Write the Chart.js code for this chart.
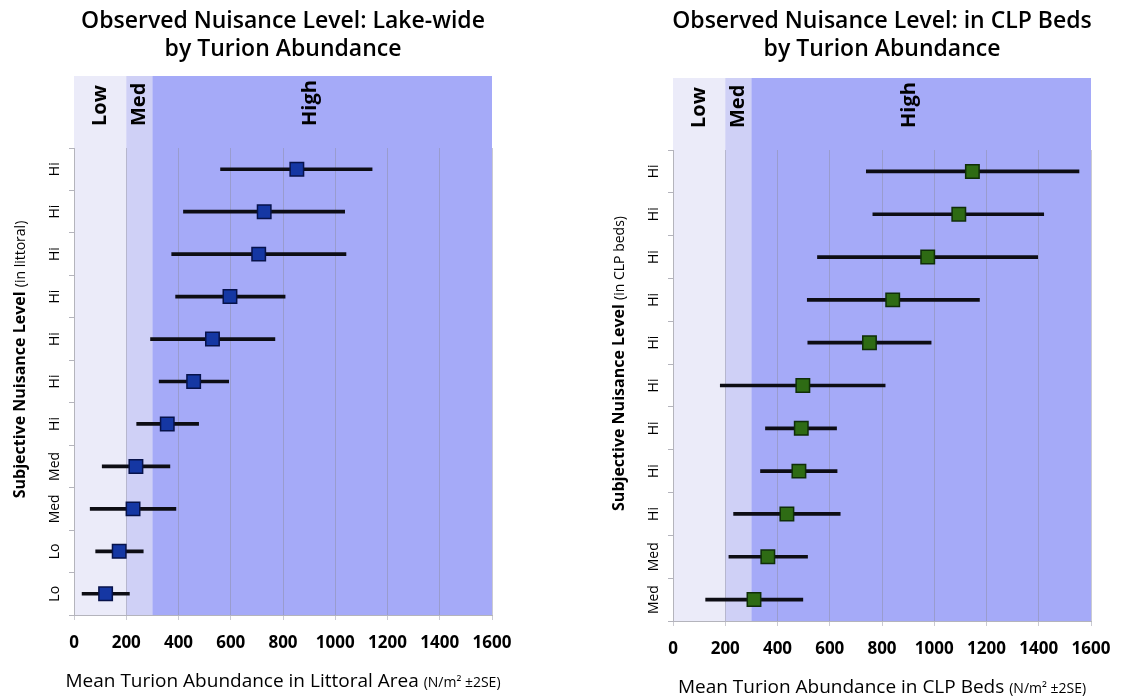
<!DOCTYPE html>
<html>
<head>
<meta charset="utf-8">
<script src="https://cdn.jsdelivr.net/npm/chart.js@4.4.1/dist/chart.umd.min.js"></script>
<style>
  body { margin: 0; background: #fff; }
  .panel { position: absolute; top: 0; height: 696px; }
</style>
</head>
<body>
<div class="panel" style="left:0;width:566px"><canvas id="lakeChart" width="566" height="696"></canvas></div>
<div class="panel" style="left:566px;width:565px"><canvas id="bedChart" width="565" height="696"></canvas></div>
<script>
// rows listed top to bottom
const lakeLevels = ['Hi', 'Hi', 'Hi', 'Hi', 'Hi', 'Hi', 'Hi', 'Med', 'Med', 'Lo', 'Lo'];
const lakeMean = [853, 728, 707, 597, 530, 458, 357, 237, 226, 173, 121];
const lakeLow = [561, 419, 374, 389, 293, 326, 240, 108, 62, 83, 31];
const lakeHigh = [1141, 1036, 1041, 808, 769, 592, 477, 367, 390, 265, 212];

const bedLevels = ['Hi', 'Hi', 'Hi', 'Hi', 'Hi', 'Hi', 'Hi', 'Hi', 'Hi', 'Med', 'Med'];
const bedMean = [1146, 1094, 975, 841, 752, 497, 491, 482, 436, 363, 310];
const bedLow = [740, 765, 553, 514, 516, 181, 354, 335, 232, 214, 125];
const bedHigh = [1554, 1419, 1396, 1173, 988, 812, 626, 628, 640, 515, 497];

// abundance classes along the x axis
const bandNames = ['Low', 'Med', 'High'];
const bandEdges = [0, 200, 300, 1600];
const bandLabelAt = [100, 250, 905];
const bandColors = ['#ebebf9', '#cfd0f6', '#a5aaf8'];

const FONT = "'Open Sans', 'Noto Sans', sans-serif";

// draws pieces of text with different fonts on one baseline, centred on x
function drawMixed(ctx, parts, cx, baseline) {
  let total = 0;
  parts.forEach(p => { ctx.font = p.font; total += ctx.measureText(p.text).width; });
  let x = cx - total / 2;
  ctx.textAlign = 'left';
  ctx.textBaseline = 'alphabetic';
  parts.forEach(p => {
    ctx.font = p.font;
    ctx.fillText(p.text, x, baseline);
    x += ctx.measureText(p.text).width;
  });
}

const panelDecor = {
  id: 'panelDecor',
  beforeDraw(chart, args, o) {
    const { ctx, chartArea: a, scales: { x } } = chart;
    ctx.save();
    for (let i = 0; i < bandNames.length; i++) {
      const l = x.getPixelForValue(bandEdges[i]);
      const r = x.getPixelForValue(bandEdges[i + 1]);
      ctx.fillStyle = bandColors[i];
      ctx.fillRect(l, o.bandTop, r - l, a.bottom - o.bandTop);
    }
    ctx.restore();
  },
  afterDraw(chart, args, o) {
    const { ctx, chartArea: a, scales: { x, y } } = chart;
    const mid = (a.left + a.right) / 2;
    ctx.save();
    ctx.fillStyle = '#000';

    // chart title
    ctx.font = '600 23px ' + FONT;
    ctx.textAlign = 'center';
    ctx.textBaseline = 'middle';
    o.title.forEach((line, i) => ctx.fillText(line, mid, 21 + i * 28));

    // band names in the header strip
    ctx.font = 'bold 20px ' + FONT;
    bandNames.forEach((name, i) => {
      ctx.save();
      ctx.translate(x.getPixelForValue(bandLabelAt[i]), o.bandTop + 50);
      ctx.rotate(-Math.PI / 2);
      ctx.textAlign = 'left';
      ctx.textBaseline = 'middle';
      ctx.fillText(name, 0, 0);
      ctx.restore();
    });

    // category labels, rotated
    ctx.font = '14px ' + FONT;
    chart.data.labels.forEach((lab, i) => {
      ctx.save();
      ctx.translate(a.left - 19, y.getPixelForValue(i));
      ctx.rotate(-Math.PI / 2);
      ctx.textAlign = 'center';
      ctx.textBaseline = 'middle';
      ctx.fillText(lab, 0, 0);
      ctx.restore();
    });

    // y axis title
    ctx.save();
    ctx.translate(a.left - 55, (a.top + a.bottom) / 2 - 22);
    ctx.rotate(-Math.PI / 2);
    drawMixed(ctx, [
      { text: 'Subjective Nuisance Level ', font: 'bold 16px ' + FONT },
      { text: o.yNote, font: '14px ' + FONT }
    ], 0, 6);
    ctx.restore();

    // x axis title
    drawMixed(ctx, [
      { text: o.xTitle + ' ', font: '19px ' + FONT },
      { text: '(N/m\u00B2 \u00B12SE)', font: '14px ' + FONT }
    ], mid, a.bottom + 72);
    ctx.restore();
  }
};

function buildPanel(id, p) {
  return new Chart(document.getElementById(id), {
    type: 'bar',
    data: {
      labels: p.levels,
      datasets: [
        {
          type: 'line',
          label: 'Mean',
          data: p.mean,
          indexAxis: 'y',
          showLine: false,
          pointStyle: 'rect',
          pointRadius: 9.5,
          pointHoverRadius: 9.5,
          pointBackgroundColor: p.fill,
          pointBorderColor: p.edge,
          pointBorderWidth: 1.5,
          order: 0
        },
        {
          type: 'bar',
          label: '±2SE',
          data: p.low.map((v, i) => [v, p.high[i]]),
          indexAxis: 'y',
          backgroundColor: '#0d0d14',
          barThickness: 3,
          order: 1
        }
      ]
    },
    options: {
      responsive: false,
      animation: false,
      indexAxis: 'y',
      layout: { padding: { left: 0, top: p.top, right: p.right, bottom: 0 } },
      plugins: {
        legend: { display: false },
        title: { display: false },
        tooltip: { enabled: false },
        panelDecor: { bandTop: p.bandTop, title: p.title, yNote: p.yNote, xTitle: p.xTitle }
      },
      scales: {
        x: {
          type: 'linear',
          min: 0,
          max: 1600,
          ticks: {
            stepSize: 200,
            color: '#000',
            padding: 13,
            font: { family: FONT, size: 17, weight: 'bold' },
            callback: v => String(v)
          },
          grid: { color: 'rgba(140,140,155,0.45)', tickLength: 5 },
          border: { color: '#b4b4bc' },
          afterFit(s) { s.height = 696 - p.bottom; }
        },
        y: {
          type: 'category',
          offset: true,
          ticks: { display: false },
          grid: { offset: true, drawOnChartArea: false, tickLength: 5, color: '#b4b4bc' },
          border: { color: '#b4b4bc' },
          afterFit(s) { s.width = p.left; }
        }
      }
    },
    plugins: [panelDecor]
  });
}

buildPanel('lakeChart', {
  levels: lakeLevels, mean: lakeMean, low: lakeLow, high: lakeHigh,
  fill: '#1537a3', edge: '#07124a',
  left: 74, top: 148, right: 74, bottom: 615, bandTop: 76,
  title: ['Observed Nuisance Level: Lake-wide', 'by Turion Abundance'],
  yNote: '(in littoral)',
  xTitle: 'Mean Turion Abundance in Littoral Area'
});

buildPanel('bedChart', {
  levels: bedLevels, mean: bedMean, low: bedLow, high: bedHigh,
  fill: '#2e6b14', edge: '#0f2e08',
  left: 107, top: 150, right: 40, bottom: 621, bandTop: 78,
  title: ['Observed Nuisance Level: in CLP Beds', 'by Turion Abundance'],
  yNote: '(in CLP beds)',
  xTitle: 'Mean Turion Abundance in CLP Beds'
});
</script>
</body>
</html>
